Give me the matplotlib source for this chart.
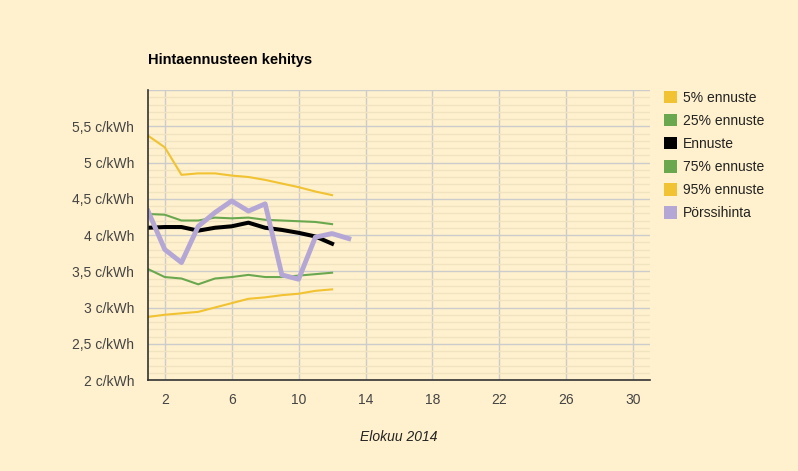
import matplotlib
matplotlib.use("Agg")
import matplotlib.pyplot as plt
from matplotlib.patches import Patch
from matplotlib.ticker import MultipleLocator, FuncFormatter

# Days of August 2014 and forecast series (c/kWh)
days = list(range(1, 13))
p5 = [5.37, 5.21, 4.83, 4.85, 4.85, 4.82, 4.80, 4.76, 4.71, 4.66, 4.60, 4.55]
p25 = [4.29, 4.28, 4.20, 4.20, 4.24, 4.23, 4.24, 4.21, 4.20, 4.19, 4.18, 4.15]
forecast = [4.10, 4.11, 4.11, 4.06, 4.10, 4.12, 4.17, 4.10, 4.07, 4.03, 3.98, 3.88]
p75 = [3.53, 3.42, 3.40, 3.32, 3.40, 3.42, 3.45, 3.42, 3.42, 3.44, 3.46, 3.48]
p95 = [2.87, 2.90, 2.92, 2.94, 3.00, 3.06, 3.12, 3.14, 3.17, 3.19, 3.23, 3.25]
spot_days = list(range(1, 14))
spot = [4.33, 3.80, 3.62, 4.12, 4.31, 4.47, 4.33, 4.43, 3.45, 3.39, 3.97, 4.02, 3.95]

labels = ["5% ennuste", "25% ennuste", "Ennuste", "75% ennuste", "95% ennuste", "Pörssihinta"]
yellow = "#f1c232"
green = "#6aa84f"
purple = "#b4a7d6"
colors = [yellow, green, "#000000", green, yellow, purple]

bg = "#fff1cd"
plt.rcParams["font.family"] = ["Liberation Sans", "DejaVu Sans"]

fig = plt.figure(figsize=(7.98, 4.71), dpi=100, facecolor=bg)
ax = fig.add_axes([0.1855, 0.1932, 0.629, 0.6157], facecolor=bg)

ax.plot(days, p5, color=yellow, lw=1.5)
ax.plot(days, p25, color=green, lw=1.5)
ax.plot(days, p75, color=green, lw=1.5)
ax.plot(days, p95, color=yellow, lw=1.5)
ax.plot(days, forecast, color="black", lw=2.9)
ax.plot(spot_days, spot, color=purple, lw=3.5)

ax.set_xlim(1, 31)
ax.set_ylim(2, 6)
ax.set_xticks([2, 6, 10, 14, 18, 22, 26, 30])
ax.yaxis.set_major_locator(MultipleLocator(0.5))
ax.yaxis.set_minor_locator(MultipleLocator(0.1))
ax.yaxis.set_major_formatter(FuncFormatter(
    lambda v, p: ("%g c/kWh" % v).replace(".", ",") if v < 5.9 else ""))

ax.grid(True, which="major", color="#cccccc", lw=1)
ax.grid(True, which="minor", axis="y", color="#f0e3c0", lw=1)
ax.set_axisbelow(True)
ax.tick_params(which="both", length=0, labelsize=10, colors="#444444", pad=10)
ax.tick_params(axis="x", pad=9)
for s in ["top", "right"]:
    ax.spines[s].set_visible(False)
for s in ["left", "bottom"]:
    ax.spines[s].set_color("#333333")
    ax.spines[s].set_linewidth(1.2)

ax.set_xlabel("Elokuu 2014", fontsize=10, style="italic", color="#222222", labelpad=17)
fig.text(148 / 798, 1 - 60 / 471, "Hintaennusteen kehitys", fontsize=10.5,
         fontweight="bold", va="center", ha="left")

handles = [Patch(facecolor=c, edgecolor="none") for c in colors]
leg = fig.legend(handles, labels, loc="upper left", bbox_to_anchor=(658 / 798, 1 - 85 / 471),
                 frameon=False, fontsize=10, handlelength=1.0, handleheight=1.0,
                 handletextpad=0.4, labelspacing=0.66, borderaxespad=0)
for t in leg.get_texts():
    t.set_color("#222222")

fig.savefig("out.png", dpi=100, facecolor=bg)
